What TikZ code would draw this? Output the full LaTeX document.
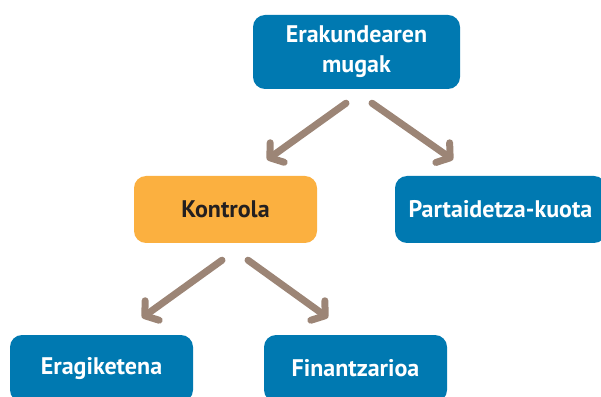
\documentclass[tikz,border=0pt]{standalone}
\usepackage{fontspec}
\setmainfont{PT Sans}
\usetikzlibrary{arrows.meta,calc}
\definecolor{boxblue}{HTML}{0079B1}
\definecolor{boxorange}{HTML}{FBB040}
\definecolor{arrowgrey}{HTML}{9C8576}
\definecolor{darktext}{HTML}{231F20}

\begin{document}
\begin{tikzpicture}[x=1pt, y=1pt,
    box/.style={rounded corners=12pt, minimum height=67pt, align=center,
      font=\fontsize{24}{30}\selectfont\bfseries, inner sep=0pt},
    bluebox/.style={box, fill=boxblue, text=white},
    orangebox/.style={box, fill=boxorange, text=darktext},
    link/.style={arrowgrey, line width=7pt, line cap=round,
      -{Straight Barb[length=9pt, width=24pt, round]}}]
    \useasboundingbox (0,0) rectangle (601,396);
    % boxes
    \node[bluebox, minimum width=207pt, minimum height=74pt] (limits) at (356.5,344) {Erakundearen\\mugak};
    \node[orangebox, minimum width=183pt] (control) at (225.5,186.5) {Kontrola};
    \node[bluebox, minimum width=211pt] (share) at (500.5,186.5) {Partaidetza-kuota};
    \node[bluebox, minimum width=183pt] (operating) at (101.5,27.5) {Eragiketena};
    \node[bluebox, minimum width=183pt] (financial) at (355.5,27.5) {Finantzarioa};
    % arrows
    \draw[link] ($(limits.south)+(-10.5,-14)$) -- ($(control.north)+(41.5,16)$);
    \draw[link] ($(limits.south)+(15.5,-14)$) -- ($(share.north)+(-47.5,16)$);
    \draw[link] ($(control.south)+(-3.5,-17)$) -- ($(operating.north)+(40.5,17)$);
    \draw[link] ($(control.south)+(22.5,-17)$) -- ($(financial.north)+(-27.5,17)$);
\end{tikzpicture}
\end{document}
